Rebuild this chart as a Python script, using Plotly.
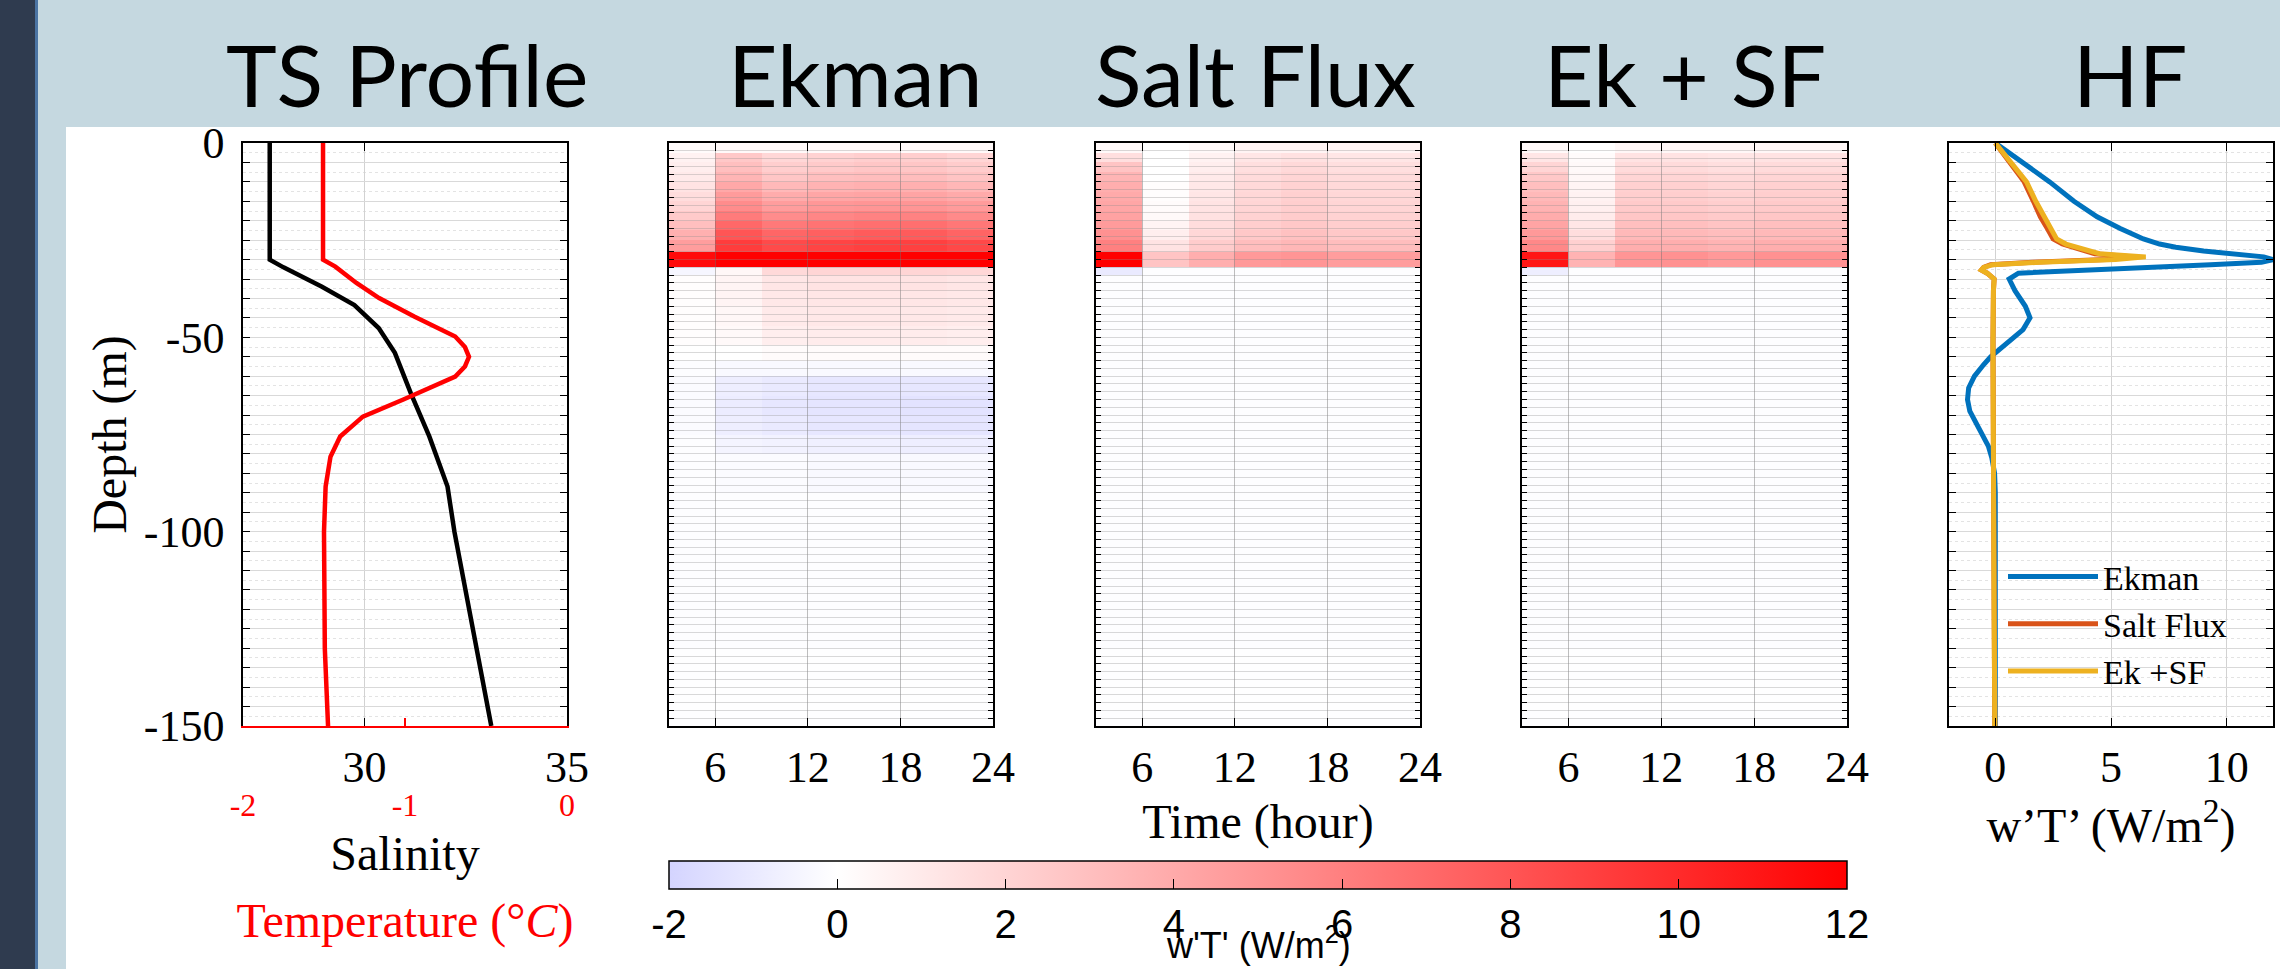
import plotly.graph_objects as go

W, H = 2280, 969

# ---------------- data ----------------
# TS profile
sal_depth = [0, -30, -32, -34, -37, -41.7, -47.6, -54, -64.3, -75.5, -88.4, -100, -107, -120, -130, -140, -150]
salinity = [27.66, 27.66, 28.0, 28.4, 28.95, 29.75, 30.35, 30.75, 31.14, 31.6, 32.05, 32.22, 32.35, 32.6, 32.78, 32.96, 33.13]

temp_depth = [0, -30, -31.8, -36, -39.9, -44.7, -49.8, -52.5, -55, -57.5, -60.1, -63, -66, -70.4, -75.5, -80.7, -88.4, -100, -112, -130, -150]
temperature = [-1.506, -1.506, -1.43, -1.30, -1.16, -0.94, -0.69, -0.63, -0.605, -0.63, -0.69, -0.84, -1.01, -1.26, -1.40, -1.46, -1.49, -1.50, -1.50, -1.495, -1.475]

# heat-flux maps: time (hour) bin edges and depth (m) bin edges
hm_time_edges = [3, 6, 9, 12, 15, 18, 21, 24]
hm_depth_edges = [0, -2.5, -5, -7.5, -10, -12.5, -15, -17.5, -20, -22.5, -25, -28, -32, -34,
                  -38, -42, -47, -52, -56, -60, -65, -70, -75, -80, -90, -110, -130, -150]

ekman_wT = [
    [0.2, 0.3, 0.3, 0.3, 0.3, 0.3, 0.3],
    [0.6, 2.6, 1.9, 2.1, 2.3, 2.3, 2.0],
    [0.8, 3.0, 2.3, 2.5, 2.7, 2.7, 2.4],
    [1.0, 3.5, 2.7, 3.0, 3.1, 3.1, 2.8],
    [1.3, 4.1, 3.3, 3.6, 3.7, 3.7, 3.4],
    [1.6, 4.7, 3.9, 4.2, 4.3, 4.3, 4.0],
    [2.0, 5.4, 4.6, 4.9, 5.0, 5.0, 4.7],
    [2.5, 6.2, 5.4, 5.7, 5.9, 5.9, 5.5],
    [3.0, 7.1, 6.3, 6.6, 6.8, 6.8, 6.4],
    [3.7, 8.0, 7.2, 7.5, 7.7, 7.7, 7.3],
    [4.6, 9.2, 8.5, 8.8, 9.0, 9.0, 8.6],
    [11.5, 12.0, 12.0, 12.0, 12.0, 12.0, 12.0],
    [-0.4, 0.4, 1.8, 2.0, 2.0, 2.0, 1.9],
    [0.1, 0.5, 1.2, 1.3, 1.3, 1.3, 1.2],
    [0.1, 0.5, 1.1, 1.2, 1.2, 1.2, 1.1],
    [0.1, 0.4, 1.0, 1.1, 1.1, 1.1, 1.0],
    [0.1, 0.3, 0.8, 0.9, 0.9, 0.9, 0.8],
    [0.0, 0.0, 0.2, 0.2, 0.2, 0.2, 0.2],
    [-0.1, -0.3, -0.3, -0.3, -0.3, -0.3, -0.3],
    [-0.2, -0.8, -1.0, -1.1, -1.1, -1.1, -1.1],
    [-0.2, -0.9, -1.1, -1.2, -1.2, -1.3, -1.3],
    [-0.2, -0.8, -1.0, -1.1, -1.1, -1.2, -1.2],
    [-0.1, -0.5, -0.6, -0.7, -0.7, -0.8, -0.8],
    [-0.1, -0.2, -0.2, -0.3, -0.3, -0.3, -0.3],
    [-0.1, -0.1, -0.1, -0.1, -0.1, -0.1, -0.1],
    [-0.1, -0.1, -0.1, -0.1, -0.1, -0.1, -0.1],
    [-0.05, -0.05, -0.05, -0.05, -0.05, -0.05, -0.05],
]

saltflux_wT = [
    [0.3, 0.0, 0.3, 0.5, 0.5, 0.5, 0.5],
    [1.5, 0.0, 0.6, 1.2, 1.4, 1.2, 1.2],
    [2.8, 0.0, 0.8, 1.5, 1.8, 1.5, 1.5],
    [3.5, 0.0, 1.0, 1.7, 2.0, 1.7, 1.7],
    [3.8, 0.1, 1.1, 1.8, 2.1, 1.8, 1.8],
    [4.0, 0.1, 1.2, 1.9, 2.2, 1.9, 1.9],
    [4.2, 0.2, 1.3, 2.0, 2.3, 2.0, 2.0],
    [4.4, 0.3, 1.4, 2.1, 2.4, 2.1, 2.1],
    [4.7, 0.5, 1.6, 2.3, 2.6, 2.3, 2.3],
    [5.2, 0.8, 1.9, 2.6, 2.9, 2.6, 2.6],
    [6.0, 1.3, 2.4, 3.1, 3.4, 3.1, 3.1],
    [12.0, 2.8, 3.8, 4.8, 5.0, 4.6, 4.6],
    [-1.0, -0.1, -0.1, -0.1, -0.1, -0.1, -0.1],
    [-0.1, -0.1, -0.1, -0.1, -0.1, -0.1, -0.1],
    [-0.1, -0.1, -0.1, -0.1, -0.1, -0.1, -0.1],
    [-0.1, -0.1, -0.1, -0.1, -0.1, -0.1, -0.1],
    [-0.1, -0.1, -0.1, -0.1, -0.1, -0.1, -0.1],
    [-0.1, -0.1, -0.1, -0.1, -0.1, -0.1, -0.1],
    [-0.1, -0.1, -0.1, -0.1, -0.1, -0.1, -0.1],
    [-0.1, -0.1, -0.1, -0.1, -0.1, -0.1, -0.1],
    [-0.1, -0.1, -0.1, -0.1, -0.1, -0.1, -0.1],
    [-0.1, -0.1, -0.1, -0.1, -0.1, -0.1, -0.1],
    [-0.1, -0.1, -0.1, -0.1, -0.1, -0.1, -0.1],
    [-0.1, -0.1, -0.1, -0.1, -0.1, -0.1, -0.1],
    [-0.1, -0.1, -0.1, -0.1, -0.1, -0.1, -0.1],
    [-0.1, -0.1, -0.1, -0.1, -0.1, -0.1, -0.1],
    [-0.05, -0.05, -0.05, -0.05, -0.05, -0.05, -0.05],
]

eksf_wT = [
    [0.3, 0.0, 0.4, 0.4, 0.4, 0.4, 0.4],
    [1.2, 0.2, 1.3, 1.3, 1.2, 1.3, 1.3],
    [2.0, 0.3, 1.7, 1.7, 1.5, 1.7, 1.7],
    [2.6, 0.4, 2.0, 2.0, 1.8, 2.0, 2.0],
    [3.0, 0.5, 2.2, 2.2, 2.0, 2.2, 2.2],
    [3.3, 0.6, 2.3, 2.3, 2.1, 2.3, 2.3],
    [3.6, 0.7, 2.5, 2.5, 2.3, 2.5, 2.5],
    [3.9, 0.9, 2.7, 2.7, 2.5, 2.7, 2.7],
    [4.3, 1.2, 3.0, 3.0, 2.8, 3.0, 3.0],
    [4.8, 1.6, 3.3, 3.3, 3.1, 3.3, 3.3],
    [5.6, 2.2, 3.8, 3.8, 3.6, 3.8, 3.8],
    [11.0, 3.6, 5.0, 5.2, 4.8, 5.2, 5.2],
    [-0.8, -0.1, -0.1, -0.1, -0.1, -0.1, -0.1],
    [-0.1, -0.1, -0.1, -0.1, -0.1, -0.1, -0.1],
    [-0.1, -0.1, -0.1, -0.1, -0.1, -0.1, -0.1],
    [-0.1, -0.1, -0.1, -0.1, -0.1, -0.1, -0.1],
    [-0.1, -0.1, -0.1, -0.1, -0.1, -0.1, -0.1],
    [-0.1, -0.1, -0.1, -0.1, -0.1, -0.1, -0.1],
    [-0.1, -0.1, -0.1, -0.1, -0.1, -0.1, -0.1],
    [-0.1, -0.1, -0.1, -0.1, -0.1, -0.1, -0.1],
    [-0.1, -0.1, -0.1, -0.1, -0.1, -0.1, -0.1],
    [-0.1, -0.1, -0.1, -0.1, -0.1, -0.1, -0.1],
    [-0.1, -0.1, -0.1, -0.1, -0.1, -0.1, -0.1],
    [-0.1, -0.1, -0.1, -0.1, -0.1, -0.1, -0.1],
    [-0.1, -0.1, -0.1, -0.1, -0.1, -0.1, -0.1],
    [-0.1, -0.1, -0.1, -0.1, -0.1, -0.1, -0.1],
    [-0.05, -0.05, -0.05, -0.05, -0.05, -0.05, -0.05],
]

# HF profiles
hf_depth = [0, -5, -10, -15, -19, -22, -24.7, -26, -26.8, -27.8, -28.5, -29.3, -30, -30.7, -31.3, -32,
            -32.7, -33.5, -35, -38, -42, -45, -48, -51, -53, -55, -57, -60, -63, -66, -69, -72, -75,
            -78, -81, -85, -90, -100, -120, -150]
hf_ekman = [0, 1.15, 2.35, 3.4, 4.4, 5.4, 6.4, 7.1, 7.8, 9.0, 10.2, 11.6, 12.0, 11.5, 9.3, 6.6,
            3.9, 1.0, 0.6, 0.85, 1.3, 1.5, 1.2, 0.6, 0.2, -0.2, -0.5, -0.9, -1.15, -1.2, -1.1, -0.85, -0.55,
            -0.3, -0.15, -0.03, 0, 0, 0, 0]
hf_saltflux = [0, 0.6, 1.25, 1.65, 1.95, 2.25, 2.5, 2.9, 3.3, 3.9, 4.3, 6.0, 4.8, 1.6, -0.2, -0.5,
               -0.6, -0.35, -0.05, -0.08, -0.1, -0.1, -0.1, -0.1, -0.1, -0.1, -0.1, -0.1, -0.1, -0.1, -0.1, -0.1, -0.1,
               -0.1, -0.1, -0.1, -0.1, -0.08, -0.05, -0.02]
hf_eksf = [0, 0.65, 1.35, 1.75, 2.1, 2.4, 2.65, 3.05, 3.5, 4.1, 4.5, 6.5, 5.2, 1.9, -0.1, -0.5,
           -0.6, -0.35, -0.05, -0.08, -0.1, -0.1, -0.1, -0.1, -0.1, -0.1, -0.1, -0.1, -0.1, -0.1, -0.1, -0.1, -0.1,
           -0.1, -0.1, -0.1, -0.1, -0.08, -0.05, -0.02]

# labels
panel_titles = ["TS Profile", "Ekman", "Salt Flux", "Ek + SF", "HF"]
sal_ticks = [30, 35]
sal_ticktext = ["30", "35"]
temp_ticks = [-2, -1, 0]
temp_ticktext = ["-2", "-1", "0"]
time_ticks = [6, 12, 18, 24]
time_ticktext = ["6", "12", "18", "24"]
hf_ticks = [0, 5, 10]
hf_ticktext = ["0", "5", "10"]
cb_ticks = [-2, 0, 2, 4, 6, 8, 10, 12]
cb_ticktext = ["-2", "0", "2", "4", "6", "8", "10", "12"]
depth_label_vals = [0, -50, -100, -150]
depth_label_text = ["0", "-50", "-100", "-150"]
legend_names = ["Ekman", "Salt Flux", "Ek +SF"]

# ---------------- layout helpers ----------------
def fx(p):
    return p / W


def fy(p):
    return 1 - p / H


panel_l = [243, 669, 1096, 1522, 1949]
panel_r = [567, 993, 1420, 1847, 2273]
TOP, BOT = 143, 726
ydom = [fy(BOT), fy(TOP)]
title_cx = [407, 855, 1255, 1685, 2130]

SERIF = "Liberation Serif, DejaVu Serif, serif"
SANSN = "Liberation Sans Narrow, Liberation Sans, Arial, sans-serif"
TITLEF = "Lato, Open Sans, sans-serif"

cscale = [[0.0, "rgb(212,212,255)"], [2 / 14, "rgb(255,255,255)"], [1.0, "rgb(255,0,0)"]]

fig = go.Figure()

# TS profile
fig.add_trace(go.Scatter(x=salinity, y=sal_depth, mode="lines", line=dict(color="black", width=4.5),
                         xaxis="x", yaxis="y", showlegend=False, hoverinfo="skip"))
fig.add_trace(go.Scatter(x=temperature, y=temp_depth, mode="lines", line=dict(color="#ff0000", width=4.5),
                         xaxis="x6", yaxis="y", showlegend=False, hoverinfo="skip"))

# heat maps
maps = [ekman_wT, saltflux_wT, eksf_wT]
for i, zz in enumerate(maps):
    k = i + 2
    fig.add_trace(go.Heatmap(
        x=hm_time_edges, y=hm_depth_edges[::-1], z=zz[::-1],
        zmin=-2, zmax=12, colorscale=cscale, zsmooth=False,
        xaxis=f"x{k}", yaxis=f"y{k}", showscale=(i == 0), hoverinfo="skip",
        colorbar=dict(
            orientation="h", x=fx((669 + 1847) / 2), xanchor="center",
            len=(1847 - 669) / W, lenmode="fraction",
            y=fy(861), yanchor="top", thickness=28, thicknessmode="pixels",
            xpad=0, ypad=0, outlinecolor="black", outlinewidth=1.5,
            ticks="inside", ticklen=10, tickwidth=1.2, tickcolor="black",
            tickvals=cb_ticks, ticktext=cb_ticktext,
            tickfont=dict(family=SANSN, size=40, color="black"),
        ),
    ))

# HF profiles
hf_series = [hf_ekman, hf_saltflux, hf_eksf]
hf_colors = ["#0072BD", "#D95319", "#EDB120"]
for vals, col, nm in zip(hf_series, hf_colors, legend_names):
    fig.add_trace(go.Scatter(x=vals, y=hf_depth, mode="lines", line=dict(color=col, width=5),
                             name=nm, xaxis="x5", yaxis="y5", hoverinfo="skip"))

# empty overlay subplots drawing grid / frame above the heat maps
for k in (7, 8, 9):
    fig.add_trace(go.Scatter(x=[], y=[], xaxis=f"x{k}", yaxis=f"y{k}", showlegend=False, hoverinfo="skip"))

tick_font = dict(family=SERIF, size=44, color="black")
lab_font = dict(family=SERIF, size=48, color="black")

depth_ticks5 = list(range(0, -151, -5))
depth_text5 = [depth_label_text[depth_label_vals.index(v)] if v in depth_label_vals else "" for v in depth_ticks5]

frame = dict(showline=True, linecolor="black", linewidth=1.5, mirror="ticks", zeroline=False,
             automargin=False, ticks="inside", tickcolor="black", tickwidth=1.2)

XSTAND = 1

layout = dict(
    width=W, height=H, margin=dict(l=0, r=0, t=0, b=0, autoexpand=False),
    paper_bgcolor="white", plot_bgcolor="rgba(0,0,0,0)",
    showlegend=True,
    legend=dict(x=fx(2003), y=fy(548), xanchor="left", yanchor="top", bgcolor="rgba(0,0,0,0)",
                font=dict(family=SERIF, size=34, color="black"), tracegroupgap=0, itemwidth=90),
)

# TS axes
layout["xaxis"] = dict(domain=[fx(panel_l[0]), fx(panel_r[0])], anchor="y", range=[27, 35],
                       tickvals=sal_ticks, ticktext=sal_ticktext, ticklen=8, showgrid=True,
                       gridcolor="#d2d2d2", tickfont=tick_font, ticklabelstandoff=XSTAND,
                       title=dict(text="Salinity", font=lab_font, standoff=46), **frame)
layout["xaxis6"] = dict(overlaying="x", anchor="y", side="bottom", range=[-2, 0],
                        tickvals=temp_ticks, ticktext=temp_ticktext, ticks="inside", ticklen=8,
                        tickcolor="#ff0000", tickwidth=1.5, showline=True, linecolor="#ff0000",
                        linewidth=2, showgrid=False, zeroline=False, automargin=False,
                        tickfont=dict(family=SERIF, size=32, color="#ff0000"), ticklabelstandoff=50,
                        title=dict(text="Temperature (°<i>C</i>)", font=dict(family=SERIF, size=48, color="#ff0000"),
                                   standoff=81))
layout["yaxis"] = dict(domain=ydom, anchor="x", range=[-150, 0], tickmode="array",
                       tickvals=depth_ticks5, ticktext=depth_text5, ticklen=7, showgrid=True,
                       gridcolor="#d9d9d9", tickfont=tick_font, ticklabelstandoff=8,
                       minor=dict(dtick=2.5, tick0=0, showgrid=True, gridcolor="#e3e3e3",
                                  griddash="dot", ticks=""),
                       title=dict(text="Depth (m)", font=lab_font, standoff=2), **frame)

# heat-map axes (hidden) and grid overlay axes
for i, k in enumerate((2, 3, 4)):
    dom = [fx(panel_l[k - 1]), fx(panel_r[k - 1])]
    layout[f"xaxis{k}"] = dict(domain=dom, anchor=f"y{k}", range=[3, 24], visible=False)
    layout[f"yaxis{k}"] = dict(domain=ydom, anchor=f"x{k}", range=[-150, 0], visible=False)
    g = k + 5
    xa = dict(domain=dom, anchor=f"y{g}", range=[3, 24], tickvals=time_ticks, ticktext=time_ticktext,
              ticklen=8, showgrid=True, gridcolor="rgba(110,110,110,0.45)", tickfont=tick_font,
              ticklabelstandoff=XSTAND, **frame)
    if k == 3:
        xa["title"] = dict(text="Time (hour)", font=lab_font, standoff=14)
    layout[f"xaxis{g}"] = xa
    layout[f"yaxis{g}"] = dict(domain=ydom, anchor=f"x{g}", range=[-150, 0], tickmode="linear",
                               tick0=0, dtick=2, ticklen=5, showticklabels=False, showgrid=True,
                               gridcolor="rgba(140,140,140,0.33)", **frame)

# HF axes
layout["xaxis5"] = dict(domain=[fx(panel_l[4]), fx(panel_r[4])], anchor="y5", range=[-2, 12],
                        tickvals=hf_ticks, ticktext=hf_ticktext, ticklen=8, showgrid=True,
                        gridcolor="#d2d2d2", tickfont=tick_font, ticklabelstandoff=XSTAND,
                        title=dict(text="w’T’ (W/m<sup>2</sup>)", font=lab_font, standoff=14), **frame)
layout["yaxis5"] = dict(domain=ydom, anchor="x5", range=[-150, 0], tickmode="array",
                        tickvals=depth_ticks5, ticktext=[" " for _ in depth_ticks5], ticklen=7,
                        showgrid=True, gridcolor="#d9d9d9",
                        minor=dict(dtick=2.5, tick0=0, showgrid=True, gridcolor="#e3e3e3",
                                   griddash="dot", ticks=""), **frame)

# slide background
shapes = [
    dict(type="rect", xref="paper", yref="paper", x0=0, x1=1, y0=fy(127), y1=1,
         fillcolor="#c5d8e0", line=dict(width=0), layer="below"),
    dict(type="rect", xref="paper", yref="paper", x0=0, x1=fx(66), y0=0, y1=1,
         fillcolor="#c5d8e0", line=dict(width=0), layer="below"),
    dict(type="rect", xref="paper", yref="paper", x0=0, x1=fx(35), y0=0, y1=1,
         fillcolor="#2f3b4f", line=dict(width=0), layer="below"),
    dict(type="rect", xref="paper", yref="paper", x0=fx(35), x1=fx(38), y0=0, y1=1,
         fillcolor="#4b74a3", line=dict(width=0), layer="below"),
]
layout["shapes"] = shapes

annotations = []
for t, cx in zip(panel_titles, title_cx):
    annotations.append(dict(text=t, x=fx(cx), y=fy(73), xref="paper", yref="paper",
                            xanchor="center", yanchor="middle", showarrow=False,
                            font=dict(family=TITLEF, size=86, color="black")))
# colour-bar title
annotations.append(dict(text="w'T' (W/m<sup>2</sup>)", x=fx((669 + 1847) / 2), y=fy(968),
                        xref="paper", yref="paper", xanchor="center", yanchor="bottom",
                        showarrow=False, font=dict(family=SANSN, size=36, color="black")))
layout["annotations"] = annotations

fig.update_layout(**layout)
fig.write_html("out.html")
